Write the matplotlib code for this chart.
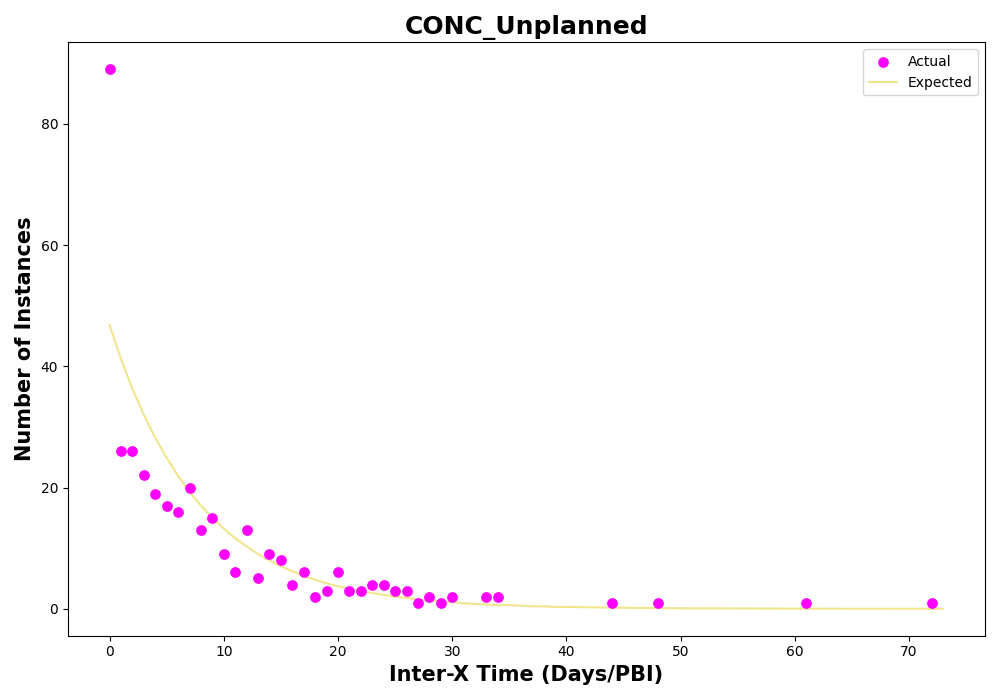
import matplotlib
matplotlib.use("Agg")
import matplotlib.pyplot as plt


# inter-arrival times (days) and how many instances had each
actual_x = [0, 1, 2, 3, 4, 5, 6, 7, 8, 9, 10, 11, 12, 13, 14, 15, 16, 17, 18, 19,
            20, 21, 22, 23, 24, 25, 26, 27, 28, 29, 30, 33, 34, 44, 48, 61, 72]
actual_counts = [89, 26, 26, 22, 19, 17, 16, 20, 13, 15, 9, 6, 13, 5, 9, 8, 4, 6, 2, 3,
                 6, 3, 3, 4, 4, 3, 3, 1, 2, 1, 2, 2, 2, 1, 1, 1, 1]

# expected curve
expected_x = list(range(0, 41)) + [45, 50, 55, 60, 65, 73]
expected_counts = [46.8, 41.2, 36.3, 32.0, 28.2, 24.9, 21.9, 19.3, 17.0, 15.0,
                   13.2, 11.6, 10.3, 9.0, 8.0, 7.0, 6.2, 5.4, 4.8, 4.2,
                   3.7, 3.3, 2.9, 2.6, 2.3, 2.0, 1.8, 1.5, 1.4, 1.2,
                   1.1, 0.9, 0.8, 0.7, 0.6, 0.6, 0.5, 0.4, 0.4, 0.3,
                   0.3, 0.16, 0.08, 0.05, 0.02, 0.01, 0.0]


def main():
    plt.figure(figsize=(10, 7), dpi=100)
    plt.scatter(actual_x, actual_counts, s=45, color="magenta", label="Actual", zorder=3)
    plt.plot(expected_x, expected_counts, color="khaki", linewidth=1.5, label="Expected")
    plt.title("CONC_Unplanned", fontsize=18, fontweight="bold")
    plt.xlabel("Inter-X Time (Days/PBI)", fontsize=15, fontweight="bold")
    plt.ylabel("Number of Instances", fontsize=15, fontweight="bold")
    plt.legend(loc="upper right")
    plt.tight_layout()
    plt.savefig("out.png", dpi=100)
    plt.close()


if __name__ == "__main__":
    main()
